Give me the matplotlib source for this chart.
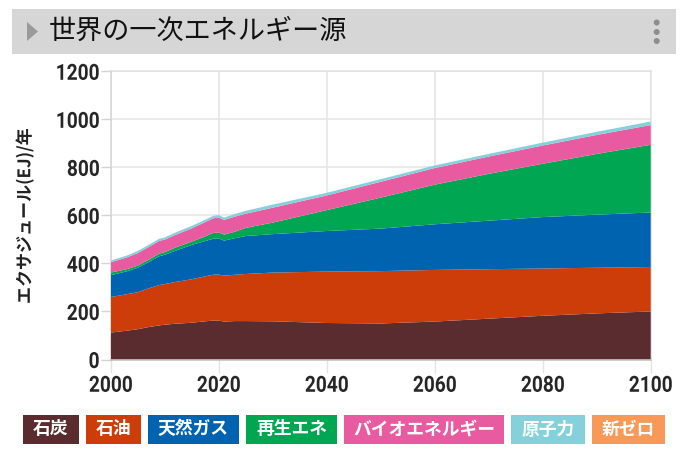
import matplotlib
matplotlib.use("Agg")
import matplotlib.pyplot as plt
from matplotlib.patches import Rectangle, Polygon, Circle
from matplotlib.patheffects import AbstractPathEffect
from matplotlib.transforms import Affine2D

CJK = ["Noto Sans CJK JP", "DejaVu Sans"]

years = [2000, 2003, 2005, 2007, 2009, 2010, 2012, 2015, 2017, 2019, 2020, 2021, 2023, 2025, 2030,
         2040, 2050, 2060, 2070, 2080, 2090, 2100]
coal = [112, 120, 126, 135, 142, 145, 149, 153, 158, 162, 162, 158, 160, 160, 159,
        152, 150, 158, 170, 182, 192, 200]
oil = [148, 152, 154, 161, 168, 169, 174, 181, 186, 191, 192, 191, 193, 196, 203,
       214, 218, 215, 206, 197, 190, 185]
gas = [91, 95, 102, 109, 120, 122, 130, 143, 146, 150, 150, 146, 152, 158, 160,
       169, 177, 190, 202, 214, 221, 227]
renew = [11, 9, 9, 10, 11, 11, 13, 14, 18, 24, 25, 25, 27, 34, 48,
         87, 129, 165, 195, 222, 253, 282]
bio = [43, 49, 52, 53, 53, 52, 53, 55, 59, 61, 62, 61, 63, 59, 62,
       61, 66, 69, 72, 76, 79, 82]
nuclear = [7, 8, 9, 9, 9, 9, 10, 10, 10, 10, 10, 10, 11, 12, 13,
           11, 11, 11, 11, 12, 13, 15]
newzero = [0] * len(years)

labels = ["石炭", "石油", "天然ガス", "再生エネ", "バイオエネルギー", "原子力", "新ゼロ"]
colors = ["#5B2C2F", "#CC3D0A", "#0063B0", "#00A651", "#E85BA1", "#84D1DC", "#F99957"]
title = "世界の一次エネルギー源"
ylabel = "エクサジュール(EJ)/年"
xticks = [2000, 2020, 2040, 2060, 2080, 2100]
yticks = [0, 200, 400, 600, 800, 1000, 1200]


class Squeeze(AbstractPathEffect):
    """Narrow the glyphs along the text direction, keeping the anchor in place."""

    def __init__(self, s, align):
        super().__init__()
        self.s, self.align = s, align

    def draw_path(self, renderer, gc, tpath, affine, rgbFace=None):
        e = tpath.get_extents()
        anchor = {"center": (e.x0 + e.x1) / 2, "right": e.x1}[self.align]
        t = Affine2D().scale(self.s, 1).translate((1 - self.s) * anchor, 0) + affine
        renderer.draw_path(gc, tpath, t, rgbFace)


W, H = 684, 466
fig = plt.figure(figsize=(W / 100, H / 100), dpi=100, facecolor="white")

# Chart
L, R, T, B = 110.7, 650.7, 71.3, 359.5
ax = fig.add_axes([L / W, 1 - B / H, (R - L) / W, (B - T) / H])
ax.stackplot(years, coal, oil, gas, renew, bio, nuclear, newzero, colors=colors, linewidth=0, zorder=3)
ax.set_xlim(2000, 2100)
ax.set_ylim(0, 1200)
ax.set_xticks(xticks)
ax.set_yticks(yticks)
ax.grid(True, color="#e4e4e4", linewidth=1.1, zorder=0)
ax.set_axisbelow(True)
for side, sp in ax.spines.items():
    sp.set_color("#e2e2e2")
    sp.set_linewidth(1.1)
ax.spines["left"].set_color("#d4d4d4")
ax.spines["bottom"].set_color("#bdbdbd")
ax.spines["bottom"].set_zorder(5)
ax.tick_params(axis="x", length=9, width=1, color="#e4e4e4", pad=2)
ax.tick_params(axis="y", length=7, width=1, color="#d4d4d4", pad=1)
for t in ax.get_xticklabels():
    t.set(fontfamily="Roboto", fontweight="bold", fontsize=16, color="#262626",
          path_effects=[Squeeze(0.86, "center")])
for t in ax.get_yticklabels():
    t.set(fontfamily="Roboto", fontweight="bold", fontsize=16, color="#262626",
          path_effects=[Squeeze(0.86, "right")])

# Chrome and legend, in pixel coordinates
ov = fig.add_axes([0, 0, 1, 1], facecolor="none")
ov.set_xlim(0, W)
ov.set_ylim(H, 0)
ov.axis("off")
ov.add_patch(Rectangle((12, 9), 664, 45, color="#D6D6D6", lw=0))
ov.add_patch(Polygon([(27, 22), (38, 31.5), (27, 41)], closed=True, color="#9A9A9C", lw=0))
for cy in (22.5, 32, 41):
    ov.add_patch(Circle((656.7, cy), 3, color="#8E8E92", lw=0))
ov.text(49, 31.5, title, family=CJK, fontsize=19.5, color="#111111", va="center", ha="left")
ov.text(25, 216, ylabel, family=CJK, fontsize=12.5, fontweight="bold", color="#222222",
        rotation=90, va="center", ha="center", path_effects=[Squeeze(0.98, "center")])

boxes = [(23, 79), (86, 141), (148, 239), (246, 337), (344, 504), (511, 585), (592, 665)]
for (x0, x1), lab, c in zip(boxes, labels, colors):
    ov.add_patch(Rectangle((x0, 415), x1 - x0, 29, color=c, lw=0))
    ov.text((x0 + x1) / 2, 429.5, lab, family=CJK, fontsize=12.8, fontweight="bold",
            color="white", ha="center", va="center")

fig.savefig("out.png", dpi=100)
